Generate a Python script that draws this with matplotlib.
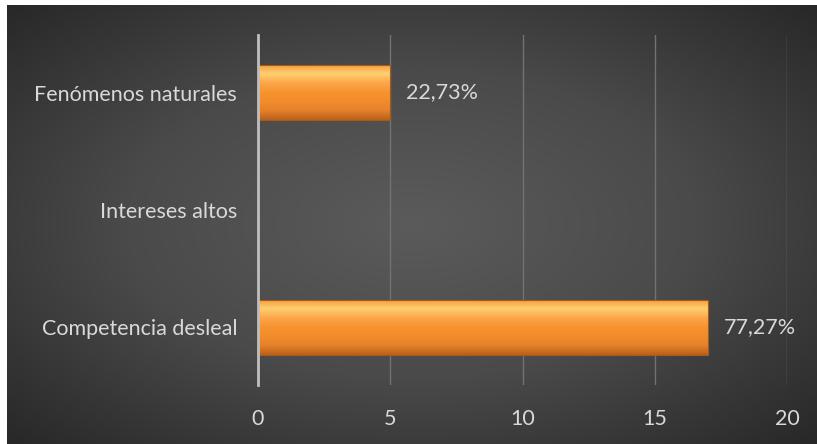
import numpy as np
import matplotlib
matplotlib.use("Agg")
import matplotlib.pyplot as plt
from matplotlib.colors import LinearSegmentedColormap

categories = ["Competencia desleal", "Intereses altos", "Fenómenos naturales"]
values = [17, 0, 5]
labels = ["77,27%", "", "22,73%"]
xticks = [0, 5, 10, 15, 20]

plt.rcParams['font.family'] = ['Lato', 'DejaVu Sans']

fig = plt.figure(figsize=(8.17, 4.44), dpi=100)
fig.patch.set_facecolor("white")

# radial gradient background (offset by the white border of the original)
bg = fig.add_axes([7 / 817, 0, 810 / 817, 439 / 444])
bg.set_axis_off()
yy, xx = np.mgrid[-1:1:300j, -1:1:500j]
r = np.sqrt((xx * 0.85) ** 2 + (yy * 0.85) ** 2)
bg_cmap = LinearSegmentedColormap.from_list("bg", ["#5b5b5b", "#4a4a4a", "#282828"])
bg.imshow(r, cmap=bg_cmap, aspect="auto", vmin=0, vmax=1.2, interpolation="bilinear")

ax = fig.add_axes([258 / 817, 1 - 385 / 444, (787 - 258) / 817, (385 - 35) / 444])
ax.patch.set_alpha(0)

ypos = np.arange(len(categories))
bar_h = 0.47
bars = ax.barh(ypos, values, height=bar_h, color="#F7922F", zorder=3)

# bevel look: vertical gradient clipped to each bar
grad_cmap = LinearSegmentedColormap.from_list(
    "bevel", ["#F59A3A", "#FFD070", "#FCA64A", "#F7932F", "#F28C2C", "#E5812A", "#B9621C"])
grad = np.linspace(0, 1, 100).reshape(-1, 1)
for b, v in zip(bars, values):
    if v <= 0:
        continue
    y0 = b.get_y()
    im = ax.imshow(grad, cmap=grad_cmap, aspect="auto", zorder=4,
                   extent=[0, v, y0, y0 + bar_h], interpolation="bilinear")
    im.set_clip_path(b)
    ax.barh(b.get_y() + bar_h / 2, v, height=bar_h, fill=False,
            edgecolor="#A65A18", linewidth=0.8, zorder=5)

for y, v, lab in zip(ypos, values, labels):
    if lab:
        ax.text(v + 0.6, y, lab, va="center", ha="left", fontsize=15.5, color="#d9d9d9")

ax.set_xlim(0, 20)
ax.set_ylim(-0.49, 2.49)
ax.set_xticks(xticks)
ax.set_yticks(ypos)
ax.set_yticklabels(categories)
ax.tick_params(axis="both", length=0, colors="#d9d9d9", labelsize=15.5)
ax.tick_params(axis="x", pad=17)
ax.tick_params(axis="y", pad=15)
ax.grid(axis="x", color="#727272", linewidth=1, zorder=0)
for s in ["top", "right", "bottom"]:
    ax.spines[s].set_visible(False)
ax.spines["left"].set_color("#bfbfbf")
ax.spines["left"].set_linewidth(2)
ax.spines["left"].set_zorder(6)

fig.savefig("out.png", dpi=100, facecolor=fig.get_facecolor())
